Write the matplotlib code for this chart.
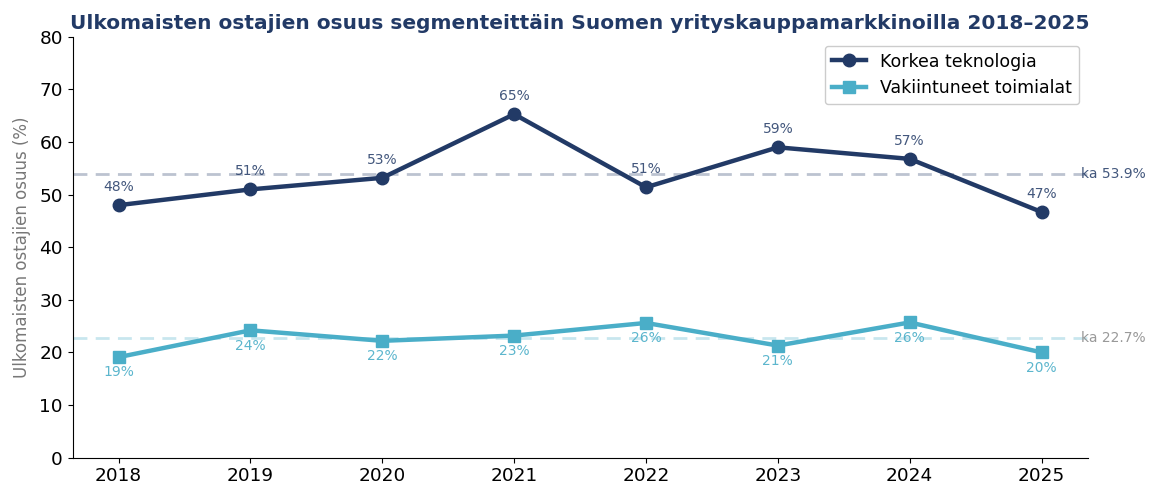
import matplotlib
matplotlib.use("Agg")
import matplotlib.pyplot as plt

years = [2018, 2019, 2020, 2021, 2022, 2023, 2024, 2025]
high_tech = [48.0, 51.0, 53.2, 65.3, 51.4, 59.0, 56.8, 46.7]
established = [19.1, 24.2, 22.2, 23.2, 25.6, 21.3, 25.7, 20.0]
series_names = ["Korkea teknologia", "Vakiintuneet toimialat"]
title = "Ulkomaisten ostajien osuus segmenteittäin Suomen yrityskauppamarkkinoilla 2018–2025"
ylabel = "Ulkomaisten ostajien osuus (%)"

navy = "#223a66"
light = "#4aaec8"

fig, ax = plt.subplots(figsize=(11.51, 4.92), dpi=100)
fig.subplots_adjust(left=0.063, right=0.945, top=0.925, bottom=0.07)

ax.plot(years, high_tech, color=navy, lw=3.2, marker="o", ms=9, label=series_names[0], zorder=3)
ax.plot(years, established, color=light, lw=3.2, marker="s", ms=9, label=series_names[1], zorder=3)

m1 = sum(high_tech) / len(high_tech)
m2 = sum(established) / len(established)
ax.axhline(m1, color=navy, alpha=0.3, ls="--", lw=2, dashes=(5, 3))
ax.axhline(m2, color=light, alpha=0.3, ls="--", lw=2, dashes=(5, 3))
xr = years[-1] + 0.3
ax.text(xr, m1, f"ka {m1:.1f}%", color=navy, fontsize=10, va="center", ha="left", alpha=0.85)
ax.text(xr, m2, f"ka {m2:.1f}%", color="#999999", fontsize=10, va="center", ha="left")

for x, v in zip(years, high_tech):
    ax.annotate(f"{v:.0f}%", (x, v), xytext=(0, 8), textcoords="offset points", ha="center", va="bottom", fontsize=10, color=navy, alpha=0.85)
for x, v in zip(years, established):
    ax.annotate(f"{v:.0f}%", (x, v), xytext=(0, -6), textcoords="offset points", ha="center", va="top", fontsize=10, color=light, alpha=0.9)

ax.set_ylim(0, 80)
ax.set_xticks(years)
ax.tick_params(labelsize=13.3)
ax.set_ylabel(ylabel, color="#777777", fontsize=12, labelpad=6)
ax.set_title(title, fontsize=14.5, fontweight="bold", color=navy, pad=6)
ax.spines["top"].set_visible(False)
ax.spines["right"].set_visible(False)
ax.legend(loc="upper right", fontsize=12.5, framealpha=1)

fig.savefig("out.png", dpi=100)
